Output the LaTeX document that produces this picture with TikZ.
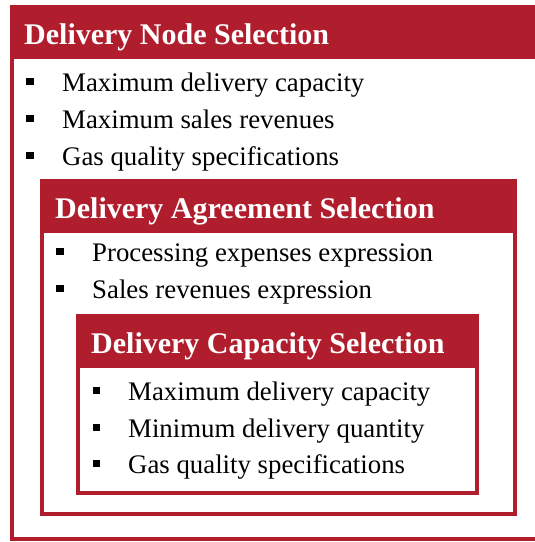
\documentclass[tikz,border=0pt]{standalone}
\usepackage{fontspec}
\setmainfont{Liberation Serif}
\definecolor{boxred}{RGB}{176,30,46}
\begin{document}
\begin{tikzpicture}[x=1pt,y=-1pt,
  frame/.style={draw=boxred,line width=4pt},
  band/.style={fill=boxred},
  title/.style={anchor=base west,inner sep=0pt,text=white,font=\fontsize{30}{34}\selectfont\bfseries},
  item/.style={anchor=base west,inner sep=0pt,font=\fontsize{26.8}{30}\selectfont},
  bulletsq/.style={fill=black,minimum size=7.5pt,inner sep=0pt,outer sep=0pt}
]
\useasboundingbox (0,0) rectangle (535,542);

% outer frame: delivery nodes
\draw[frame] (12,7) rectangle (548,539);
\fill[band] (10,5) rectangle (548,59);
\node[title] (t1) at (24,44) {Delivery Node Selection};
\node[bulletsq] (b11) at (30,81.5) {};
\node[item] (i11) at (62,91) {Maximum delivery capacity};
\node[bulletsq] (b12) at (30,118.5) {};
\node[item] (i12) at (62,128) {Maximum sales revenues};
\node[bulletsq] (b13) at (30,155.5) {};
\node[item] (i13) at (62,165) {Gas quality specifications};

% middle frame: delivery agreements
\draw[frame] (42,181) rectangle (515,514);
\fill[band] (40,179) rectangle (517,233);
\node[title] (t2) at (55,218) {Delivery Agreement Selection};
\node[bulletsq] (b21) at (60,251.5) {};
\node[item] (i21) at (92,261) {Processing expenses expression};
\node[bulletsq] (b22) at (60,288.5) {};
\node[item] (i22) at (92,298) {Sales revenues expression};

% inner frame: delivery capacities
\draw[frame] (78,316) rectangle (477,493);
\fill[band] (76,314) rectangle (479,368);
\node[title] (t3) at (91,353) {Delivery Capacity Selection};
\node[bulletsq] (b31) at (96.5,390.5) {};
\node[item] (i31) at (128,400) {Maximum delivery capacity};
\node[bulletsq] (b32) at (96.5,427.5) {};
\node[item] (i32) at (128,437) {Minimum delivery quantity};
\node[bulletsq] (b33) at (96.5,463.5) {};
\node[item] (i33) at (128,473) {Gas quality specifications};
\end{tikzpicture}
\end{document}
